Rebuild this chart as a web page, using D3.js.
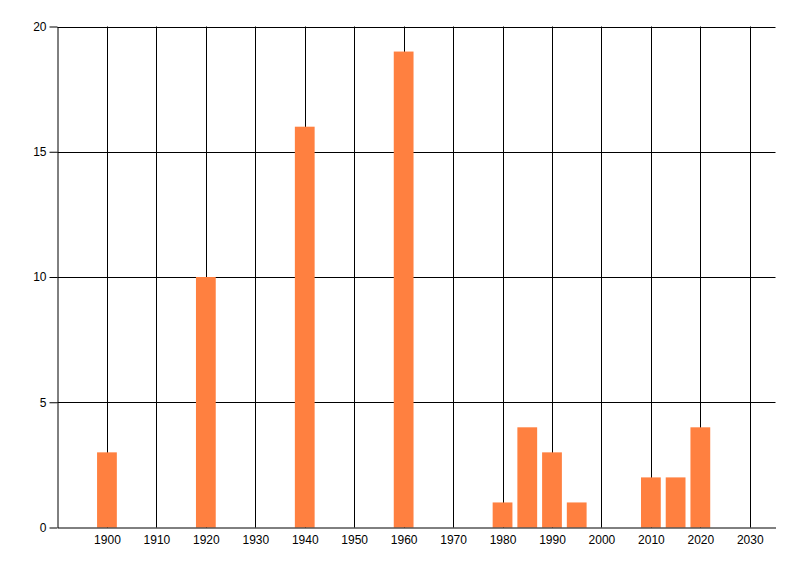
<!DOCTYPE html>
<html>
<head>
    <meta charset="utf-8">
    <script src="https://cdnjs.cloudflare.com/ajax/libs/d3/7.8.5/d3.min.js"></script>
    <style>
        body { margin: 0; background: #fff; }
        text { font-family: "Liberation Sans", Arial, sans-serif; font-size: 12px; fill: #000; }
    </style>
</head>
<body>
<script>
    // data
    const years = [1900, 1920, 1940, 1960, 1980, 1985, 1990, 1995, 2010, 2015, 2020];
    const counts = [3, 10, 16, 19, 1, 4, 3, 1, 2, 2, 4];
    const xTicks = [1900, 1910, 1920, 1930, 1940, 1950, 1960, 1970, 1980, 1990, 2000, 2010, 2020, 2030];
    const yTicks = [0, 5, 10, 15, 20];

    const W = 800, H = 576;
    const mLeft = 57.5, mRight = 775.5, mTop = 26.5, mBottom = 527.5;

    const svg = d3.select('body').append('svg')
        .attr('width', W)
        .attr('height', H);

    const x = d3.scaleLinear().domain([1890, 2035.2]).range([mLeft, mRight]);
    const y = d3.scaleLinear().domain([0, 20]).range([mBottom, mTop]);

    // grid
    svg.append('g').selectAll('line').data(xTicks).enter()
        .append('line')
        .attr('x1', d => Math.round(x(d)) + 0.5)
        .attr('x2', d => Math.round(x(d)) + 0.5)
        .attr('y1', mTop).attr('y2', mBottom)
        .attr('stroke', '#000');
    svg.append('g').selectAll('line').data(yTicks.filter(d => d > 0)).enter()
        .append('line')
        .attr('x1', mLeft).attr('x2', mRight)
        .attr('y1', d => Math.round(y(d)) + 0.5)
        .attr('y2', d => Math.round(y(d)) + 0.5)
        .attr('stroke', '#000');

    // bars (4 years wide)
    svg.append('g').selectAll('rect').data(years).enter()
        .append('rect')
        .attr('x', d => x(d - 2))
        .attr('width', d => x(d + 2) - x(d - 2))
        .attr('y', (d, i) => y(counts[i]))
        .attr('height', (d, i) => y(0) - y(counts[i]))
        .attr('fill', '#ff8040');

    // axes
    const yAxis = svg.append('g')
        .attr('transform', `translate(${mLeft},0)`)
        .call(d3.axisLeft(y).tickValues(yTicks).tickSize(8).tickPadding(3).tickSizeOuter(0));
    yAxis.select('.domain').attr('stroke', '#000');
    yAxis.selectAll('.tick line').attr('stroke', '#000');

    const xAxis = svg.append('g')
        .attr('transform', `translate(0,${mBottom})`)
        .call(d3.axisBottom(x).tickValues(xTicks).tickFormat(d3.format('d')).tickSize(0).tickPadding(8).tickSizeOuter(0));
    xAxis.select('.domain').attr('stroke', '#000');
    xAxis.selectAll('text').attr('fill', '#000');
    yAxis.selectAll('text').attr('fill', '#000');
</script>
</body>
</html>
